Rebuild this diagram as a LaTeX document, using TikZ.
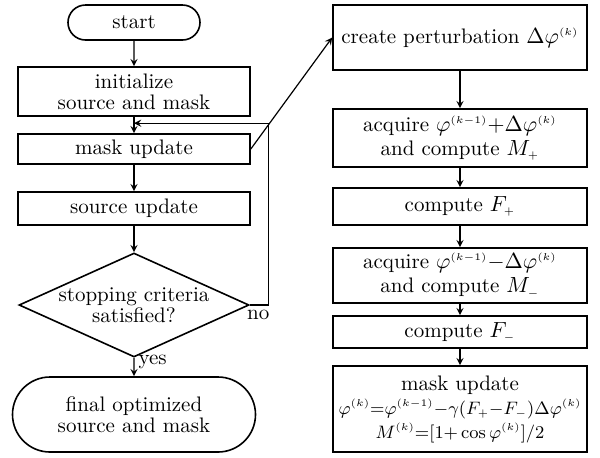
\documentclass[tikz,border=0pt]{standalone}
\usetikzlibrary{shapes.geometric,shapes.misc}
\newcommand{\kk}{^{\scriptscriptstyle(k)}}
\newcommand{\kmo}{^{\scriptscriptstyle(k-1)}}
\newcommand{\lo}[1]{_{\scriptscriptstyle#1}}
\newcommand{\eqsize}{\fontsize{9.5}{12}\selectfont}
\begin{document}
\begin{tikzpicture}[x=0.5pt, y=-0.5pt,
  font=\fontsize{10.5}{10.5}\selectfont,
  box/.style={draw, line width=0.8pt, align=center, inner sep=0pt},
  leftbox/.style={box, minimum width=116pt},
  rightbox/.style={box, minimum width=127pt, font=\fontsize{10.5}{12}\selectfont},
  terminal/.style={draw, line width=0.8pt, rounded rectangle, align=center, inner sep=0pt},
  decision/.style={draw, line width=0.8pt, diamond, aspect=2.2, inner sep=-1pt, align=center, minimum width=115pt, minimum height=52pt},
  line/.style={line width=0.6pt, ->, >=stealth}]
\useasboundingbox (0,0) rectangle (600,457);

% left column
\node[terminal, minimum width=66pt, minimum height=17.5pt] (start) at (134,22.5) {start};
\node[leftbox, minimum height=24.5pt] (init) at (134,91.5) {initialize\\source and mask};
\node[leftbox, minimum height=15pt] (mask) at (134,149) {mask update};
\node[leftbox, minimum height=16.5pt] (src) at (134,208.5) {source update};
\node[decision] (dec) at (134,305) {stopping criteria\\satisfied?};
\node[terminal, minimum width=121.5pt, minimum height=37.5pt] (final) at (134,414.5) {final optimized\\source and mask};

% right column
\node[rightbox, minimum height=32.5pt] (cp) at (460,37.5) {create perturbation $\Delta\varphi\kk$};
\node[rightbox, minimum height=29pt] (acqp) at (460,138) {acquire $\varphi\kmo{+}\Delta\varphi\kk$\\and compute $M\lo{+}$};
\node[rightbox, minimum height=18.5pt] (fp) at (460,206.5) {compute $F\lo{+}$};
\node[rightbox, minimum height=27.5pt] (acqm) at (460,275.5) {acquire $\varphi\kmo{-}\Delta\varphi\kk$\\and compute $M\lo{-}$};
\node[rightbox, minimum height=16pt] (fm) at (460,332) {compute $F\lo{-}$};
\node[rightbox, minimum height=43pt] (upd) at (460,409) {mask update\\{\eqsize$\varphi\kk{=}\varphi\kmo{-}\gamma(F\lo{+}{-}F\lo{-})\Delta\varphi\kk$}\\{\eqsize$M\kk{=}[1{+}\cos\varphi\kk]/2$}};

% connectors
\draw[line] (start) -- (init);
\draw[line] (init) -- (mask);
\draw[line] (mask) -- (src);
\draw[line] (src) -- (dec);
\draw[line] (dec) -- (final) node[pos=0.2, right, inner sep=2pt] (yes) {yes};
\coordinate (fb) at ([yshift=5pt]mask.north);
\draw[line] (dec.east) -- ++(19,0) |- (fb);
\node[anchor=north west, inner sep=1pt] (no) at ([xshift=-2.5pt, yshift=-1.5pt]dec.east) {no};
\draw[line] (mask.east) -- (cp.west);
\foreach \a/\b in {cp/acqp, acqp/fp, fp/acqm, acqm/fm, fm/upd}
  \draw[line] (\a) -- (\b);
\end{tikzpicture}
\end{document}
